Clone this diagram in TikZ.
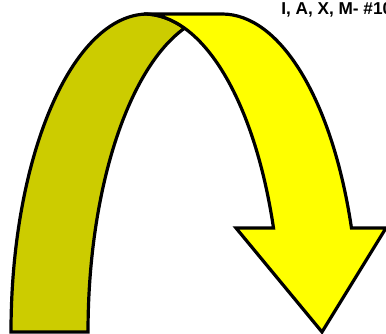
\documentclass[tikz,border=0pt]{standalone}
\usepackage{fontspec}
\setmainfont{Liberation Sans}
\usetikzlibrary{positioning}
\definecolor{backfill}{RGB}{204,204,0}
\definecolor{frontfill}{RGB}{255,255,0}

\begin{document}
\begin{tikzpicture}[x=0.75pt, y=0.75pt, every node/.style={font=\bfseries\fontsize{12.9}{15}\selectfont}, band/.style={draw=black, line width=2.4pt, miter limit=10}, backband/.style={band, fill=backfill}, frontband/.style={band, fill=frontfill}]
\useasboundingbox (0,0) rectangle (386,334);
% back half of the ribbon
\path[backband] (88,2) -- (11,2) arc[start angle=180, end angle=90, x radius=137, y radius=318] -- (144,320) arc[start angle=90, end angle=72.8, x radius=137, y radius=318] arc[start angle=107.2, end angle=180, x radius=137, y radius=318] -- cycle;
% front half with the head
\path[frontband] (144,320) -- (222,320) arc[start angle=90, end angle=19.09, x radius=137, y radius=318] -- (386,106) -- (322,2) -- (236,106) -- (273.5,106) arc[start angle=19.09, end angle=90, x radius=137, y radius=318] -- cycle;
\node[anchor=base west, inner sep=0pt] (title) at (281,319) {I, A, X, M- \#10};
\end{tikzpicture}
\end{document}
